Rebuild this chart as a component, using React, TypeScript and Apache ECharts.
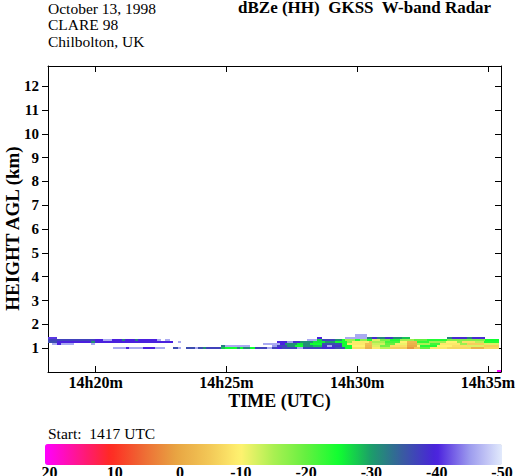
import React, { useEffect, useRef } from 'react';
import * as echarts from 'echarts';

// ---- Data (time in minutes after 14h00 UTC, dBZe values) ----
const timeTicks = [20, 25, 30, 35];
const heightTicks = [1, 2, 3, 4, 5, 6, 7, 8, 9, 10, 11, 12];
const colorbarTicks = [20, 10, 0, -10, -20, -30, -40, -50];

// range-gate bottoms (km) and gate depth
const gateBottomsKm = [0.945, 1.035, 1.125, 1.215, 1.305, 1.395, 1.485];
const gateDepthKm = 0.09;

// runs per gate: [startMin, endMin, dBZe]
const gate0 = [
  [20.66, 21.16, -46], [21.16, 21.27, -40], [21.27, 21.81, -46], [21.81, 22.27, -40],
  [22.27, 22.65, -46], [22.95, 23.15, -36], [23.15, 23.26, -46], [23.45, 23.8, -36],
  [23.8, 23.91, -46], [23.91, 24.1, -36], [24.1, 24.22, -31], [24.22, 24.79, -37],
  [24.79, 24.95, -28], [24.95, 25.4, -25], [25.4, 25.52, -31], [25.52, 25.63, -25],
  [25.63, 25.9, -31], [25.9, 26.09, -25], [26.09, 26.55, -37], [26.55, 26.74, -46],
  [26.74, 26.93, -37], [26.93, 27.12, -40], [27.12, 27.7, -37], [27.7, 27.93, -46],
  [27.93, 28.65, -37], [28.65, 29.15, -39], [29.15, 29.53, -36], [29.53, 29.8, -25],
  [29.8, 30.29, -8], [30.29, 30.57, -2], [30.57, 30.87, -9], [30.87, 31.25, -14],
  [31.25, 31.9, -6], [31.9, 32.17, 1], [32.17, 32.4, -5], [32.4, 32.78, -20],
  [32.78, 33.43, -9], [33.43, 34.35, -7], [34.35, 34.84, -2], [34.84, 35.42, -7],
];
const gate1 = [
  [24.79, 24.95, -32], [24.95, 25.9, -46], [26.74, 26.93, -45], [26.93, 27.31, -37],
  [27.31, 27.62, -31], [27.62, 27.93, -25], [27.93, 28.31, -31], [28.31, 28.65, -28],
  [28.65, 28.84, -38], [28.84, 29.03, -46], [29.03, 29.42, -38], [29.42, 29.8, -25],
  [29.8, 30.29, -10], [30.29, 30.57, -3], [30.57, 30.87, -12], [30.87, 31.25, -19],
  [31.25, 31.9, -8], [31.9, 32.29, -1], [32.29, 32.4, -10], [32.4, 33.05, -24],
  [33.05, 33.62, -10], [33.62, 34.19, -8], [34.19, 34.84, -12], [34.84, 35.42, -6],
];
const gate2 = [
  [18.33, 18.52, -46], [18.52, 18.67, -40], [18.67, 19.17, -46], [19.82, 19.97, -46],
  [26.4, 27.05, -46], [27.05, 27.24, -40], [27.24, 27.7, -31], [27.7, 27.93, -26],
  [27.93, 28.19, -31], [28.19, 28.65, -25], [28.65, 29.42, -36], [29.42, 29.61, -25],
  [29.61, 30.29, -9], [30.29, 30.57, -4], [30.57, 31.06, -13], [31.06, 31.44, -20],
  [31.44, 31.9, -11], [31.9, 32.29, -2], [32.29, 32.78, -15], [32.78, 33.16, -22],
  [33.16, 33.92, -9], [33.92, 34.19, -16], [34.19, 34.84, -6], [34.84, 35.42, -12],
];
const gate3 = [
  [18.19, 18.52, -36], [18.52, 19.82, -40], [19.82, 19.97, -31], [19.97, 22.95, -40],
  [23.15, 23.26, -46], [26.93, 27.31, -40], [27.31, 27.55, -45], [27.55, 27.81, -39],
  [27.81, 28.31, -31], [28.31, 28.77, -26], [28.77, 29.15, -30], [29.15, 29.61, -25],
  [29.61, 29.8, -17], [29.8, 30.45, -9], [30.45, 30.57, -4], [30.57, 31.06, -15],
  [31.06, 31.63, -22], [31.63, 31.9, -10], [31.9, 32.29, -3], [32.29, 32.75, -23],
  [32.75, 33.39, -16], [33.39, 33.8, -10], [33.8, 34.0, -17], [34.0, 34.5, -8],
  [34.5, 34.84, -14], [34.84, 35.42, -24],
];
const gate4 = [
  [18.19, 19.97, -37], [19.97, 20.28, -40], [20.28, 20.62, -46], [20.62, 21.01, -40],
  [21.01, 21.12, -32], [21.12, 21.5, -40], [21.5, 21.62, -32], [21.62, 22.34, -40],
  [22.34, 22.5, -46], [22.65, 22.84, -46], [28.08, 28.46, -46], [28.46, 28.65, -27],
  [28.65, 29.15, -37], [29.15, 29.42, -31], [29.42, 29.53, -25], [29.53, 29.91, -16],
  [29.91, 30.1, -24], [30.1, 30.37, -17], [30.37, 30.57, -24], [30.57, 30.87, -12],
  [30.87, 31.25, -19], [31.25, 31.63, -24], [31.63, 32.17, -16], [32.17, 32.67, -20],
  [32.67, 33.43, -24], [33.43, 34.88, -18], [34.88, 35.42, -25],
];
const gate5 = [
  [18.19, 18.52, -41], [28.46, 28.65, -40], [29.53, 30.37, -46], [30.37, 30.57, -32],
  [30.57, 30.76, -39], [30.76, 31.06, -32], [31.06, 31.37, -38], [31.37, 31.71, -31],
  [31.71, 32.01, -28], [33.43, 33.62, -32], [33.62, 34.19, -39], [34.19, 34.39, -32],
  [34.39, 34.88, -39],
];
const gate6 = [[29.91, 30.37, -46]];
const gates = [gate0, gate1, gate2, gate3, gate4, gate5, gate6];

// near-ground echo at the end of the record: [startMin, endMin, dBZe]
const groundGateBottomKm = 0.0;
const groundEcho = [[35.36, 35.49, 20]];

// colour table from -50 to 20 dBZe in 5 dB steps
const colorTable = [
  '#e2eafc', '#9c9aee', '#4a20de', '#3a58a4', '#1c9c6a', '#10ff30', '#64f040',
  '#aaf052', '#fff270', '#f2c656', '#e8a442', '#ee6a34', '#ff2a22', '#ff1590', '#ff00ff',
];

const FONT = '"Liberation Serif", "Times New Roman", serif';

function buildCells() {
  const cells: number[][] = [];
  gates.forEach((runs, i) => {
    runs.forEach(([t0, t1, v]) => {
      cells.push([t0, t1, gateBottomsKm[i], gateBottomsKm[i] + gateDepthKm, v]);
    });
  });
  groundEcho.forEach(([t0, t1, v]) => {
    cells.push([t0, t1, groundGateBottomKm, groundGateBottomKm + gateDepthKm, v]);
  });
  return cells;
}

export default function App() {
  const ref = useRef<HTMLDivElement>(null);
  useEffect(() => {
    const chart = echarts.init(ref.current!, null, { renderer: 'svg' });
    const axisLine = { show: true, onZero: false, lineStyle: { color: '#000', width: 1 } };
    const option: any = {
      animation: false,
      backgroundColor: '#fff',
      textStyle: { fontFamily: FONT, color: '#000' },
      title: [
        {
          text: 'October 13, 1998\nCLARE 98\nChilbolton, UK',
          left: 48, top: 0, padding: 0,
          textStyle: { fontFamily: FONT, fontSize: 15.5, fontWeight: 'normal', lineHeight: 16.6, color: '#000' },
        },
        {
          text: 'dBZe (HH)\u00a0 GKSS\u00a0 W-band Radar',
          left: 238, top: 0, padding: 0,
          textStyle: { fontFamily: FONT, fontSize: 17, fontWeight: 'bold', color: '#000', lineHeight: 15 },
        },
        {
          text: 'Start:\u00a0 1417 UTC',
          left: 48, top: 425, padding: 0,
          textStyle: { fontFamily: FONT, fontSize: 15.5, fontWeight: 'normal', color: '#000' },
        },
      ],
      grid: [
        { left: 48, top: 66, width: 453, height: 306, containLabel: false, outerBoundsMode: 'none' },
        { left: 45, top: 444, width: 457, height: 21, containLabel: false, outerBoundsMode: 'none' },
      ],
      xAxis: [
        {
          type: 'value', gridIndex: 0, position: 'bottom', min: 18.18, max: 35.5,
          axisLine,
          axisTick: { show: true, inside: true, length: 6, customValues: timeTicks, lineStyle: { color: '#000' } },
          axisLabel: {
            customValues: timeTicks, margin: 2, formatter: (v: number) => `14h${v}m`,
            fontFamily: FONT, fontSize: 16, fontWeight: 'bold', color: '#000',
          },
          splitLine: { show: false },
          name: 'TIME (UTC)', nameLocation: 'middle', nameGap: 20, nameMoveOverlap: false,
          nameTextStyle: { fontFamily: FONT, fontSize: 18, fontWeight: 'bold', color: '#000', padding: [0, 0, 0, 10] },
        },
        {
          type: 'value', gridIndex: 0, position: 'top', min: 18.18, max: 35.5,
          axisLine,
          axisTick: { show: true, inside: true, length: 6, customValues: timeTicks, lineStyle: { color: '#000' } },
          axisLabel: { show: false },
          splitLine: { show: false },
        },
        {
          type: 'value', gridIndex: 1, position: 'bottom', min: -50, max: 20, interval: 10, inverse: true,
          axisLine: { show: false }, axisTick: { show: false }, splitLine: { show: false },
          axisLabel: {
            margin: -1, showMinLabel: true, showMaxLabel: true,
            fontFamily: FONT, fontSize: 16, fontWeight: 'bold', color: '#000',
            formatter: (v: number) => (v >= 0 ? `{p|${v}}` : `${v}`),
            rich: { p: { padding: [0, 0, 0, 9], fontFamily: FONT, fontSize: 16, fontWeight: 'bold', color: '#000' } },
          },
        },
      ],
      yAxis: [
        {
          type: 'value', gridIndex: 0, position: 'left', min: 0, max: 12.85,
          axisLine,
          axisTick: { show: true, inside: false, length: 6, customValues: heightTicks, lineStyle: { color: '#000' } },
          axisLabel: {
            customValues: heightTicks, margin: 9,
            fontFamily: FONT, fontSize: 15, fontWeight: 'bold', color: '#000',
          },
          splitLine: { show: false },
          name: 'HEIGHT AGL (km)', nameLocation: 'middle', nameGap: 26, nameMoveOverlap: false,
          nameTextStyle: { fontFamily: FONT, fontSize: 19, fontWeight: 'bold', color: '#000', padding: [0, 19, 0, 0] },
        },
        {
          type: 'value', gridIndex: 0, position: 'right', min: 0, max: 12.85,
          axisLine,
          axisTick: { show: true, inside: true, length: 6, customValues: heightTicks, lineStyle: { color: '#000' } },
          axisLabel: { show: false },
          splitLine: { show: false },
        },
        { type: 'value', gridIndex: 1, min: 0, max: 1, show: false },
      ],
      visualMap: {
        type: 'continuous',
        seriesIndex: 0,
        dimension: 4,
        min: -50,
        max: 20,
        orient: 'horizontal',
        inverse: true,
        left: 45,
        top: 444,
        padding: 0,
        itemWidth: 21,
        itemHeight: 457,
        calculable: false,
        hoverLink: false,
        text: null,
        inRange: { color: colorTable },
      },
      series: [
        {
          type: 'custom',
          xAxisIndex: 0,
          yAxisIndex: 0,
          clip: true,
          encode: { x: [0, 1], y: [2, 3] },
          data: buildCells(),
          renderItem: (params: any, api: any) => {
            const p0 = api.coord([api.value(0), api.value(3)]);
            const p1 = api.coord([api.value(1), api.value(2)]);
            const x0 = Math.round(p0[0]);
            const y0 = Math.round(p0[1]);
            const x1 = Math.round(p1[0]);
            const y1 = Math.round(p1[1]);
            return {
              type: 'rect',
              shape: { x: x0, y: y0, width: x1 - x0, height: y1 - y0 },
              style: { fill: api.visual('color') },
            };
          },
        },
      ],
    };
    chart.setOption(option);
    return () => chart.dispose();
  }, []);
  return <div ref={ref} style={{ position: 'fixed', left: 0, top: 0, width: 516, height: 476 }} />;
}
